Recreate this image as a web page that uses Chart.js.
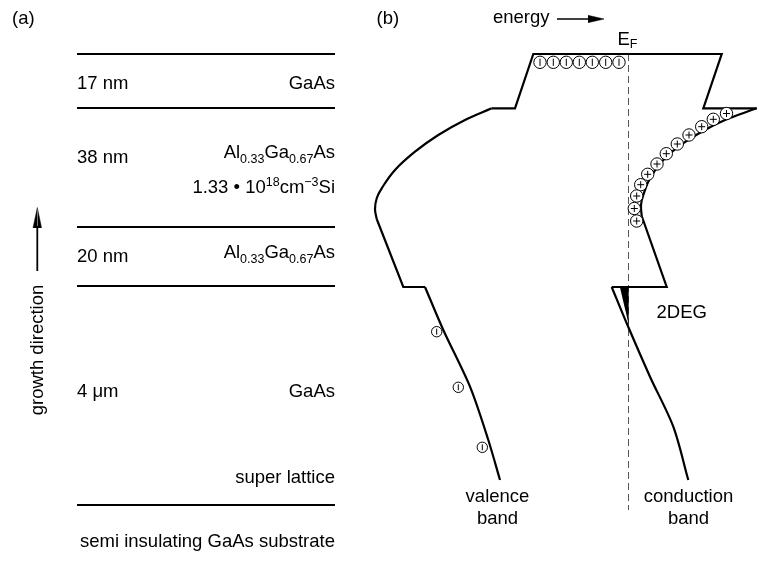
<!DOCTYPE html>
<html>
<head>
<meta charset="utf-8">
<script src="https://cdn.jsdelivr.net/npm/chart.js@4.4.1/dist/chart.umd.min.js"></script>
<style>
  html, body { margin: 0; padding: 0; background: #fff; }
  canvas { display: block; }
</style>
</head>
<body>
<canvas id="diagram" width="761" height="561"></canvas>
<script>
// ---------- Panel (a): heterostructure layer stack ----------
const layerInterfaces = [54, 108, 227, 286, 505];          // depth of each interface
const layerExtent = [77, 335];                              // lateral extent of the stack
const layerThickness = ['17 nm', '38 nm', '20 nm', '4 μm'];
const layerMaterial = ['GaAs', 'Al_{0.33}Ga_{0.67}As', 'Al_{0.33}Ga_{0.67}As', 'GaAs'];
const dopingLabel = '1.33 • 10^{18}cm^{−3}Si';
const bufferLabel = 'super lattice';
const substrateLabel = 'semi insulating GaAs substrate';

// ---------- Panel (b): band profile (energy → x, growth depth → y) ----------
const valenceChannel = [[425, 287], [443.3, 330], [470, 386.7], [488.3, 440], [500, 480]];
const valenceSpacer = [[425, 287], [403.3, 287], [376.7, 219]];
const valenceBarrier = [[376.7, 219], [375, 209], [376.8, 198], [381.7, 188.3], [395, 170],
                        [415, 151.7], [438.3, 135], [465, 120], [491.7, 108.3]];
const capProfile = [[491.7, 108.3], [515, 108.3], [533.3, 54], [721.7, 54], [703.3, 108.3], [756.7, 108.3]];
const conductionBarrier = [[756.7, 108.3], [725, 120], [701.7, 131.7], [678.3, 146.7], [661.7, 161.7],
                           [650, 178.3], [643.3, 195], [641, 205], [641.7, 216]];
const conductionSpacer = [[641.7, 216], [666.7, 287], [611.7, 287]];
const conductionChannel = [[611.7, 287], [626.7, 323.3], [650, 376.7], [673.3, 426.7], [688.3, 480]];
const fermiLevel = [[628.5, 54], [628.5, 510]];
const electronGas = [[620, 287.5], [628.8, 325]];            // filled wedge below the spacer

// charges drawn on the bands
const surfaceElectrons = [[540, 62.3], [553.3, 62.3], [566.3, 62.3], [579.3, 62.3], [592.3, 62.3], [605.7, 62.3], [619, 62.3]];
const ionizedDonors = [[726.5, 113.5], [713.3, 119.3], [701.7, 126.7], [689, 135], [677.3, 144], [666.3, 153.7],
                       [657, 164], [647.7, 174.3], [640.7, 184.7], [636.7, 196], [634.3, 208.5], [636.7, 221]];
const valenceCharges = [[436.7, 331.7], [458.3, 387.3], [482.3, 447.3]];

// axis arrows
const energyArrow = [[557, 19], [590, 19]];
const energyHeadUpper = [[588, 15.3], [604, 19]];
const energyHeadLower = [[588, 22.7], [604, 19]];
const growthArrow = [[37.3, 226], [37.3, 271]];
const growthHeadLeft = [[33, 228], [37.3, 207.5]];
const growthHeadRight = [[37.3, 207.5], [41.6, 228]];

const toPoints = arr => arr.map(([x, y]) => ({ x, y }));

function path(points, extra) {
  return Object.assign({
    data: toPoints(points),
    borderColor: '#000',
    borderWidth: 2.2,
    pointRadius: 0,
    fill: false,
    tension: 0,
    showLine: true,
    order: 5
  }, extra || {});
}

function markers(points, radius, extra) {
  return Object.assign({
    data: toPoints(points),
    showLine: false,
    pointStyle: 'circle',
    pointRadius: radius,
    pointBorderWidth: 1,
    pointBorderColor: '#000',
    pointBackgroundColor: '#fff',
    order: 2
  }, extra || {});
}

const datasets = [];

// layer interfaces
layerInterfaces.forEach(y => {
  datasets.push(path([[layerExtent[0], y], [layerExtent[1], y]], { borderWidth: 2 }));
});

// band outline
datasets.push(path(valenceChannel, { tension: 0.3 }));
datasets.push(path(valenceSpacer));
datasets.push(path(valenceBarrier, { tension: 0.4 }));
datasets.push(path(capProfile));
datasets.push(path(conductionBarrier, { tension: 0.4 }));
datasets.push(path(conductionSpacer));
datasets.push(path(conductionChannel, { tension: 0.3 }));

// Fermi level
datasets.push(path(fermiLevel, { borderWidth: 1, borderColor: '#555', borderDash: [7, 4], order: 6 }));

// 2DEG wedge
datasets.push(path(electronGas, { borderWidth: 0, backgroundColor: '#000', fill: { value: 287.5 }, order: 4 }));

// arrows
datasets.push(path(energyArrow, { borderWidth: 1.5 }));
datasets.push(path(energyHeadUpper, { borderWidth: 0.5, backgroundColor: '#000', fill: { value: 19 } }));
datasets.push(path(energyHeadLower, { borderWidth: 0.5, backgroundColor: '#000', fill: { value: 19 } }));
datasets.push(path(growthArrow, { borderWidth: 1.8 }));
datasets.push(path(growthHeadLeft, { borderWidth: 0.5, backgroundColor: '#000', fill: { value: 228 } }));
datasets.push(path(growthHeadRight, { borderWidth: 0.5, backgroundColor: '#000', fill: { value: 228 } }));

// charges: circles, then the sign inside
datasets.push(markers(surfaceElectrons, 6.2));
datasets.push(markers(surfaceElectrons, 3.6, { pointStyle: 'line', rotation: 90, pointBorderWidth: 1, order: 1 }));
datasets.push(markers(ionizedDonors, 6.2));
datasets.push(markers(ionizedDonors, 3.5, { pointStyle: 'cross', pointBorderWidth: 1, order: 1 }));
datasets.push(markers(valenceCharges, 5.2));
datasets.push(markers(valenceCharges, 3, { pointStyle: 'line', rotation: 90, pointBorderWidth: 1, order: 1 }));

// ---------- text placement ----------
const thicknessBaselines = [89, 163, 262, 396.5];
const materialBaselines = [89, 158, 258, 396.5];
const textItems = [
  { text: '(a)', x: 12, y: 24, align: 'left' },
  { text: '(b)', x: 376.5, y: 24, align: 'left' },
  { text: dopingLabel, x: layerExtent[1], y: 193, align: 'right' },
  { text: bufferLabel, x: layerExtent[1], y: 483, align: 'right' },
  { text: substrateLabel, x: layerExtent[1], y: 546.5, align: 'right' },
  { text: 'energy', x: 493, y: 23, align: 'left' },
  { text: 'E_{F}', x: 617.5, y: 45, align: 'left', sub: 3 },
  { text: '2DEG', x: 656.5, y: 318, align: 'left' },
  { text: 'valence', x: 497.5, y: 501.5, align: 'center' },
  { text: 'band', x: 497.5, y: 524, align: 'center' },
  { text: 'conduction', x: 688.5, y: 501.5, align: 'center' },
  { text: 'band', x: 688.5, y: 524, align: 'center' }
];
layerThickness.forEach((t, i) => textItems.push({ text: t, x: layerExtent[0], y: thicknessBaselines[i], align: 'left' }));
layerMaterial.forEach((t, i) => textItems.push({ text: t, x: layerExtent[1], y: materialBaselines[i], align: 'right' }));

const FONT_FAMILY = '"Liberation Sans", Arial, Helvetica, sans-serif';
const MAIN_FONT = '18.5px ' + FONT_FAMILY;
const SCRIPT_FONT = '12.5px ' + FONT_FAMILY;

function splitRuns(s) {
  const runs = [];
  const re = /([_^])\{([^}]*)\}|([^_^]+)/g;
  let m;
  while ((m = re.exec(s))) {
    if (m[3] !== undefined) runs.push({ t: m[3], k: '' });
    else runs.push({ t: m[2], k: m[1] });
  }
  return runs;
}

function drawRich(ctx, item, px, py) {
  const runs = splitRuns(item.text);
  let total = 0;
  runs.forEach(r => {
    ctx.font = r.k ? SCRIPT_FONT : MAIN_FONT;
    r.w = ctx.measureText(r.t).width;
    total += r.w;
  });
  let cx = item.align === 'right' ? px - total : item.align === 'center' ? px - total / 2 : px;
  runs.forEach(r => {
    ctx.font = r.k ? SCRIPT_FONT : MAIN_FONT;
    const dy = r.k === '_' ? (item.sub || 5) : r.k === '^' ? -7 : 0;
    ctx.fillText(r.t, cx, py + dy);
    cx += r.w;
  });
}

const labelPlugin = {
  id: 'diagramLabels',
  afterDatasetsDraw(chart) {
    const { ctx } = chart;
    const sx = chart.scales.x, sy = chart.scales.y;
    ctx.save();
    ctx.fillStyle = '#000';
    ctx.textAlign = 'left';
    ctx.textBaseline = 'alphabetic';
    textItems.forEach(item => drawRich(ctx, item, sx.getPixelForValue(item.x), sy.getPixelForValue(item.y)));
    // rotated axis caption for the growth direction
    ctx.translate(sx.getPixelForValue(43), sy.getPixelForValue(350));
    ctx.rotate(-Math.PI / 2);
    ctx.font = MAIN_FONT;
    ctx.textAlign = 'center';
    ctx.fillText('growth direction', 0, 0);
    ctx.restore();
  }
};

new Chart(document.getElementById('diagram'), {
  type: 'line',
  data: { datasets },
  options: {
    responsive: false,
    animation: false,
    events: [],
    layout: { padding: 0, autoPadding: false },
    scales: {
      x: { type: 'linear', min: 0, max: 761, display: false },
      y: { type: 'linear', min: 0, max: 561, reverse: true, display: false }
    },
    plugins: { legend: { display: false }, tooltip: { enabled: false } }
  },
  plugins: [labelPlugin]
});
</script>
</body>
</html>
